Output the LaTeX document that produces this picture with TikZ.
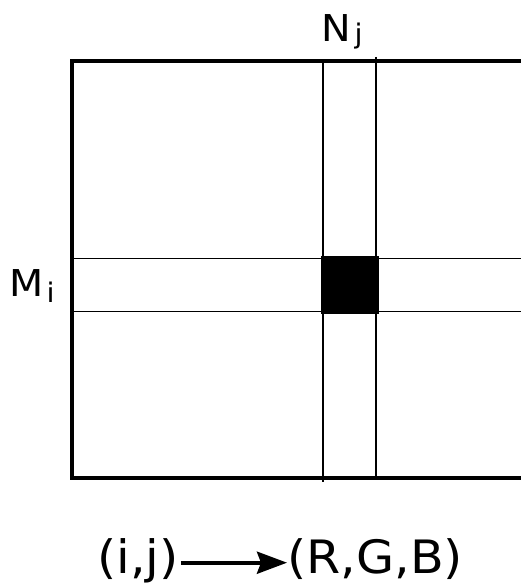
\documentclass[tikz,border=0pt]{standalone}
\usepackage{fontspec}
\setmainfont{DejaVu Sans}
\usetikzlibrary{arrows.meta}
\tikzset{
  frame/.style={line width=4.5pt, line cap=butt, line join=miter},
  gridline/.style={line width=1.6pt},
  lbl/.style={inner sep=0pt, anchor=base west, font=\fontsize{37}{42}\selectfont},
  bigtxt/.style={inner sep=0pt, anchor=base west, font=\fontsize{46}{50}\selectfont}
}
\newcommand{\subtxt}[2]{\raisebox{#1}{\fontsize{27}{30}\selectfont #2}}
\newcommand{\wide}[1]{\scalebox{1.07}[1]{#1}}
\begin{document}
\begin{tikzpicture}[x=1pt,y=-1pt]
\useasboundingbox (0,0) rectangle (521,583);
\clip (0,0) rectangle (521,583);
% frame (open to the right)
\draw[frame] (530,61) -- (72,61) -- (72,478) -- (530,478);
% grid lines
\draw[gridline] (323,61) -- (323,482);
\draw[gridline] (376,57) -- (376,478);
\draw[gridline] (72,258.5) -- (530,258.5);
\draw[gridline] (72,311.5) -- (530,311.5);
% selected cell
\fill (321,256) rectangle (379,314);
% labels
\node[lbl] (nj) at (321.7,42) {\wide{N\kern 3pt\subtxt{-2pt}{j}}};
\node[lbl] (mi) at (9,296) {\wide{M\kern 3pt\subtxt{-6pt}{i}}};
\node[bigtxt] (ij) at (97,573) {\wide{(i,j)}};
\node[bigtxt] (rgb) at (287,573) {\wide{(R,G,B)}};
\draw[line width=4pt, -{Stealth[length=30pt,width=22pt,inset=4pt]}]
  ([shift={(2pt,10.3pt)}]ij.base east) -- ([shift={(0pt,10.3pt)}]rgb.base west);
\end{tikzpicture}
\end{document}
